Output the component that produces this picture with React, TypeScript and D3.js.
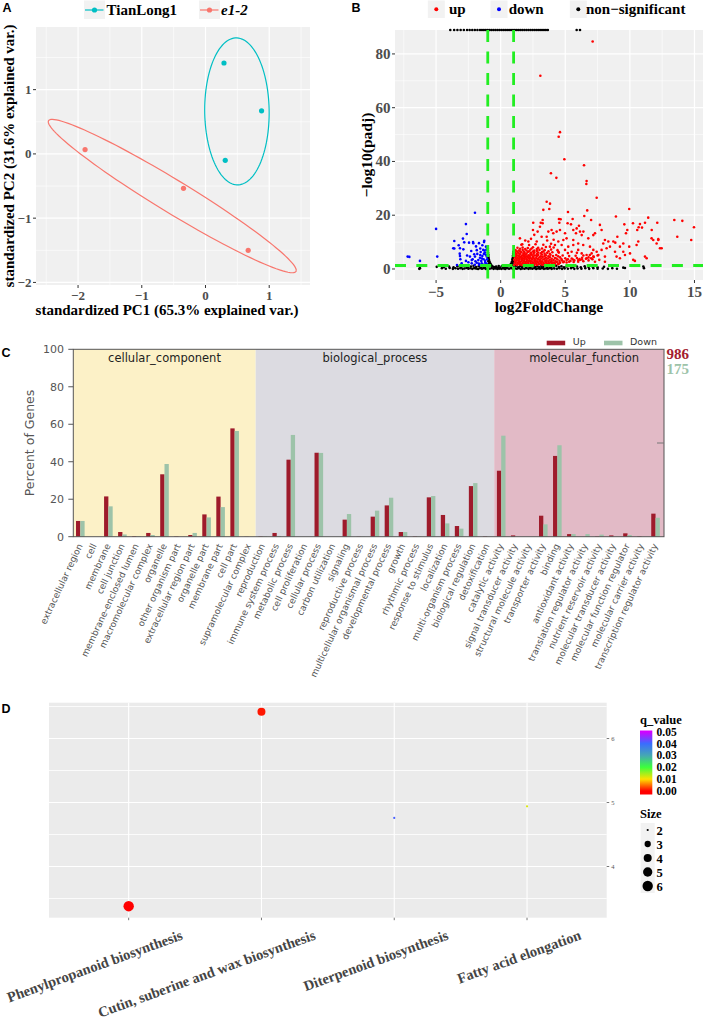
import React from 'react';
import * as d3 from 'd3';

// ================= Panel A : PCA =================
const pcaGroupNames = ['TianLong1', 'e1-2'];
const pcaGroupColors = ['#00BFC4', '#F8766D'];
const tianlongPC1 = [0.29, 0.88, 0.31];
const tianlongPC2 = [1.415, 0.67, -0.1];
const e12PC1 = [-1.89, -0.345, 0.67];
const e12PC2 = [0.067, -0.535, -1.5];
const pcaTicks = [-2, -1, 0, 1];
const pcaMinorX = [-2.5, -1.5, -0.5, 0.5, 1.5];
const pcaMinorY = [-1.5, -0.5, 0.5, 1.5];
const pcaEllipseProb = 0.68;

// ================= Panel B : volcano =================
const volcanoLegend = ['up', 'down', 'non\u2212significant'];
const volcanoColors = ['#FF0000', '#0000FF', '#000000'];
const volcanoXTicks = [-5, 0, 5, 10, 15];
const volcanoYTicks = [0, 20, 40, 60, 80];
const volcanoMinorX = [-7.5, -2.5, 2.5, 7.5, 12.5];
const volcanoMinorY = [10, 30, 50, 70];
const fcThresholds = [-1, 1];
const padjThreshold = 1.3;
const upScattered = [
  [7.12, 84.6], [3.07, 71.9], [4.59, 50.9], [4.49, 49.2], [4.93, 40.8], [6.45, 38.6], [3.89, 35.6], [4.31, 33.9],
  [6.65, 32.7], [6.63, 31.6], [7.43, 26.5], [3.56, 25.0], [3.82, 24.3], [3.3, 22.0], [3.76, 22.3], [5.21, 21.2],
  [6.7, 21.8], [9.95, 22.3], [8.92, 19.5], [11.42, 19.1], [13.44, 18.2], [14.06, 17.9], [14.96, 15.5], [14.75, 10.8],
  [13.67, 12.0], [11.17, 17.2], [12.12, 17.2], [10.24, 17.0], [10.78, 16.7], [9.57, 16.6], [10.57, 14.5], [11.69, 14.5],
  [10.94, 15.4], [4.64, 18.5], [12.46, 7.7], [12.07, 9.5], [11.81, 10.8], [12.2, 11.1], [11.68, 11.4], [10.68, 15.5],
  [9.8, 14.5], [9.7, 13.3], [9.03, 12.0], [8.72, 10.2], [8.87, 9.8], [9.23, 8.3], [9.49, 9.5], [9.95, 8.3],
  [10.01, 5.8], [10.26, 3.4], [10.39, 3.0], [10.65, 10.2], [10.52, 8.9], [11.17, 4.6], [11.3, 4.0], [7.68, 16.4],
  [7.81, 14.5], [7.3, 13.3], [7.17, 12.6], [8.07, 10.8], [7.94, 9.5], [8.33, 10.2], [8.46, 8.3], [8.2, 7.7],
  [8.85, 6.4], [8.97, 4.6], [9.49, 6.4], [9.62, 5.2], [9.23, 4.0], [7.81, 7.1], [7.43, 6.4], [7.04, 5.8],
  [6.65, 5.2], [7.17, 4.6], [7.56, 5.2], [8.07, 4.6], [7.63, 3.4], [8.07, 2.7], [7.3, 2.7], [6.65, 4.0],
  [6.14, 3.4], [4.51, 18.6], [5.57, 18.6], [5.18, 17.0], [6.06, 16.1], [5.44, 16.6], [6.14, 13.9], [5.83, 13.3],
  [6.27, 12.6], [6.78, 11.4], [6.47, 19.7], [5.62, 14.5], [4.98, 13.3], [4.59, 14.5], [4.33, 13.9], [3.94, 14.5],
  [4.07, 13.3], [5.1, 11.4], [5.62, 10.8], [4.85, 10.8], [4.46, 10.2], [6.0, 9.5], [6.39, 8.9], [5.62, 8.9],
  [5.23, 8.3], [4.72, 8.9], [4.2, 8.9], [3.81, 8.3], [6.91, 8.3], [7.17, 7.1], [6.0, 7.1], [6.27, 5.8],
  [5.49, 6.4], [4.98, 7.1], [4.46, 6.4], [3.25, 17.0], [3.25, 18.2], [3.04, 15.7], [1.49, 11.4], [1.67, 9.2],
  [2.14, 10.2], [2.79, 10.2], [3.17, 12.0], [2.6, 12.7], [2.86, 13.9], [2.52, 17.2], [3.1, 17.2], [2.5, 14.5],
  [3.69, 13.9], [4.54, 17.2], [3.56, 12.0], [1.9, 10.6], [2.35, 11.2], [3.6, 10.6], [4.1, 10.9], [6.4, 13.9],
  [5.88, 15.1], [7.0, 18.2], [12.33, 7.7], [12.2, 10.8],
];
const upDense = [
  [1.05, 1.6], [1.25, 1.5], [1.45, 1.7], [1.62, 1.5], [1.8, 1.8], [2.0, 1.6], [2.2, 1.5], [2.4, 1.7], [2.6, 1.6], [2.8, 1.5],
  [3.0, 1.8], [3.2, 1.6], [3.4, 1.5], [3.6, 1.7], [3.8, 1.6], [4.0, 1.9], [4.2, 1.7], [4.45, 1.8],
  [1.1, 2.5], [1.3, 2.4], [1.5, 2.6], [1.7, 2.3], [1.9, 2.6], [2.1, 2.4], [2.3, 2.6], [2.5, 2.3], [2.7, 2.5], [2.9, 2.4],
  [3.1, 2.6], [3.3, 2.4], [3.5, 2.5], [3.7, 2.3], [3.9, 2.6], [4.1, 2.4], [4.35, 2.6], [4.6, 2.3], [4.85, 2.5], [5.1, 2.4],
  [1.05, 3.4], [1.25, 3.3], [1.45, 3.5], [1.65, 3.3], [1.85, 3.5], [2.05, 3.4], [2.25, 3.2], [2.45, 3.5], [2.65, 3.3],
  [2.85, 3.5], [3.05, 3.3], [3.3, 3.5], [3.55, 3.2], [3.8, 3.4], [4.1, 3.3], [4.4, 3.5], [4.75, 3.2], [5.1, 3.3],
  [5.4, 3.0], [5.7, 3.2], [6.0, 3.3], [6.3, 3.5],
  [1.1, 4.3], [1.3, 4.2], [1.5, 4.4], [1.7, 4.1], [1.9, 4.3], [2.1, 4.4], [2.3, 4.2], [2.5, 4.4], [2.75, 4.1], [3.0, 4.3],
  [3.25, 4.5], [3.5, 4.2], [3.8, 4.4], [4.2, 4.1], [4.6, 4.3], [5.0, 4.0], [5.5, 3.9], [5.9, 4.1], [6.3, 4.2], [6.8, 4.3],
  [7.2, 4.5], [7.5, 5.0],
  [1.05, 5.2], [1.25, 5.1], [1.45, 5.3], [1.65, 5.0], [1.9, 5.3], [2.15, 5.1], [2.4, 5.3], [2.65, 5.0], [2.9, 5.2],
  [3.2, 5.4], [3.5, 5.1], [3.85, 5.3], [4.3, 5.2], [4.8, 5.0], [5.3, 4.8], [5.8, 4.9], [6.4, 5.0], [6.9, 5.2],
  [1.1, 6.2], [1.35, 6.0], [1.6, 6.2], [1.85, 6.0], [2.1, 6.3], [2.35, 6.0], [2.6, 6.2], [2.9, 6.1], [3.2, 6.3],
  [3.6, 6.0], [4.0, 6.2], [4.5, 6.1], [5.2, 5.9], [5.9, 6.0],
  [1.15, 7.0], [1.4, 6.9], [1.7, 7.1], [2.0, 6.9], [2.3, 7.2], [2.6, 6.9], [3.0, 7.1], [3.4, 7.0], [3.9, 7.2], [4.4, 7.0],
  [1.3, 7.9], [1.7, 8.0], [2.1, 7.8], [2.5, 8.1], [2.9, 7.9], [3.5, 8.2], [4.1, 8.0],
  [1.6, 9.0], [2.2, 8.9], [2.7, 9.2], [3.3, 9.0], [3.9, 9.4],
];
const upDenseFill = [
  [1.15, 2.0], [1.35, 2.1], [1.55, 1.9], [1.75, 2.0], [1.95, 2.1], [2.15, 1.9], [2.35, 2.0], [2.55, 2.1], [2.75, 1.9],
  [2.95, 2.0], [3.15, 2.1], [3.35, 1.9], [3.55, 2.0], [3.75, 2.1], [3.95, 2.2], [4.2, 2.1], [4.5, 2.0],
  [1.15, 2.9], [1.4, 3.0], [1.6, 2.9], [1.8, 3.0], [2.0, 2.9], [2.2, 3.0], [2.4, 2.9], [2.6, 3.0], [2.8, 2.9], [3.0, 3.0],
  [3.2, 2.9], [3.45, 3.0], [3.7, 2.9], [3.95, 3.0], [4.25, 2.9], [4.55, 3.0], [4.9, 2.8], [5.3, 2.7], [5.65, 2.6],
  [6.0, 2.7], [6.4, 2.9], [6.8, 3.2], [7.1, 3.6],
  [1.2, 3.8], [1.4, 3.9], [1.6, 3.8], [1.8, 3.9], [2.0, 3.8], [2.2, 3.9], [2.4, 3.8], [2.6, 3.9], [2.9, 3.8], [3.15, 3.9],
  [3.4, 3.8], [3.65, 3.9], [3.95, 3.8], [4.3, 3.9], [4.7, 3.7], [5.2, 3.6], [5.6, 3.5], [6.1, 3.7], [6.6, 3.8], [7.0, 4.0],
  [1.2, 4.7], [1.4, 4.8], [1.6, 4.6], [1.8, 4.8], [2.0, 4.7], [2.25, 4.8], [2.5, 4.7], [2.8, 4.8], [3.1, 4.7], [3.4, 4.8],
  [3.7, 4.7], [4.05, 4.8], [4.45, 4.7],
  [1.2, 5.6], [1.5, 5.7], [1.75, 5.6], [2.0, 5.7], [2.3, 5.6], [2.55, 5.7], [2.8, 5.6], [3.1, 5.8], [3.4, 5.7], [3.8, 5.6],
  [1.25, 6.5], [1.5, 6.6], [1.8, 6.5], [2.2, 6.6], [2.5, 6.5], [2.8, 6.7], [3.3, 6.5], [3.7, 6.6],
  [1.5, 7.5], [1.9, 7.4], [2.4, 7.6], [2.8, 7.4], [3.2, 7.6],
];
const downPoints = [
  [-1.99, 20.9], [-5.0, 14.9], [-2.69, 16.7], [-2.63, 13.0], [-2.92, 11.3], [-2.45, 9.8], [-3.25, 8.8], [-3.59, 7.6],
  [-2.89, 7.3], [-7.07, 4.5], [-6.25, 3.0], [-4.91, 4.6], [-3.38, 1.5], [-2.14, 10.0], [-1.91, 8.4], [-2.28, 6.7],
  [-3.17, 5.7], [-3.12, 3.6], [-1.68, 9.6], [-1.42, 8.8], [-1.29, 10.0], [-1.58, 7.6], [-1.81, 5.6], [-2.17, 3.6],
  [-2.69, 3.0], [-1.42, 4.8], [-1.22, 6.1], [-1.32, 3.6], [-1.73, 3.3], [-1.99, 4.6], [-1.58, 5.2], [-2.38, 4.6],
  [-1.86, 2.3], [-1.14, 8.3], [-1.08, 4.6], [-1.47, 2.1], [-2.24, 2.1], [-3.02, 2.1], [-3.59, 10.4], [-3.15, 7.7],
  [-2.82, 9.9], [-3.67, 7.7], [-3.15, 4.8], [-2.12, 9.6], [-1.27, 10.5], [-1.35, 7.1], [-2.24, 3.3], [-7.2, 4.6],
  [-1.1, 2.0], [-1.2, 3.0], [-1.15, 5.3], [-1.25, 6.9], [-1.5, 3.0], [-1.6, 4.2], [-1.7, 2.0], [-1.95, 2.9],
  [-2.05, 5.5], [-1.4, 1.7], [-1.05, 3.6], [-1.1, 7.2], [-1.3, 5.6], [-1.55, 6.3], [-1.85, 7.0], [-2.5, 2.5],
  [-2.0, 1.6], [-2.6, 5.0], [-1.05, 1.5], [-1.2, 2.3], [-1.45, 3.9], [-1.65, 1.5],
];
const nsPoints = [
  [-1.0, 7.6], [-0.99, 6.8], [-0.98, 6.1], [-0.97, 5.5], [-0.96, 4.9], [-0.95, 4.3], [-0.93, 3.8], [-0.9, 3.3],
  [-0.95, 2.9], [-0.86, 2.7], [-0.88, 2.2], [-0.8, 2.0], [-0.93, 1.7], [-0.75, 1.6], [-0.7, 1.2], [-0.85, 1.1],
  [-0.62, 0.9], [-0.52, 0.7], [-0.44, 0.5], [-0.98, 3.5], [-0.83, 1.5],
  [0.98, 6.4], [0.97, 5.7], [0.96, 5.1], [0.95, 4.5], [0.93, 3.9], [0.9, 3.4], [0.95, 2.9], [0.86, 2.6], [0.88, 2.1],
  [0.8, 1.9], [0.9, 1.6], [0.72, 1.5], [0.76, 1.2], [0.62, 1.0], [0.5, 0.9], [0.4, 0.7], [0.97, 2.4], [0.84, 1.3],
  [0.3, 0.5], [0.18, 0.8], [0.08, 1.0], [-0.05, 0.4], [-0.2, 0.3], [-0.32, 0.4],
  [-6.3, 0.05], [-6.25, 0.3], [-4.95, 0.8], [-4.55, 0.3], [-4.25, 0.1], [-3.95, 0.35], [-3.7, 0.05], [-3.5, 0.25],
  [-3.3, 0.1], [-3.12, 0.3], [-2.95, 0.05], [-2.8, 0.2], [-2.65, 0.35], [-2.5, 0.1], [-2.35, 0.25], [-2.2, 0.05],
  [-2.05, 0.3], [-1.9, 0.15], [-1.75, 0.0], [-1.6, 0.25], [-1.45, 0.1], [-1.3, 0.3], [-1.15, 0.05], [-1.0, 0.2],
  [-0.85, 0.1], [-0.7, 0.3], [-0.55, 0.05], [-0.4, 0.2], [-0.25, 0.0], [-0.1, 0.15], [0.05, 0.05], [0.2, 0.2],
  [0.35, 0.0], [0.5, 0.25], [0.65, 0.1], [0.8, 0.3], [0.95, 0.05], [1.1, 0.2], [1.25, 0.1], [1.4, 0.3], [1.55, 0.0],
  [1.7, 0.2], [1.85, 0.1], [2.0, 0.3], [2.15, 0.05], [2.3, 0.2], [2.45, 0.1], [2.6, 0.3], [2.75, 0.0], [2.9, 0.2],
  [3.05, 0.1], [3.2, 0.3], [3.35, 0.05], [3.5, 0.2], [3.65, 0.1], [3.8, 0.3], [3.95, 0.05], [4.15, 0.2], [4.35, 0.1],
  [4.55, 0.3], [4.75, 0.05], [4.95, 0.2], [5.2, 0.1], [5.45, 0.3], [5.7, 0.05], [5.95, 0.2], [6.25, 0.1], [6.55, 0.3],
  [6.85, 0.05], [7.17, 0.3], [7.5, 0.1], [7.9, 0.2], [8.3, 0.05], [8.64, 0.3], [9.0, 0.1], [9.49, 0.5], [9.62, 0.35],
  [11.04, 0.9], [11.09, 0.3],
  [-4.4, 0.7], [-4.0, 0.9], [-3.65, 0.6], [-3.35, 1.0], [-3.05, 0.7], [-2.8, 1.1], [-2.55, 0.6], [-2.3, 0.9],
  [-2.1, 1.2], [-1.9, 0.7], [-1.7, 1.0], [-1.5, 0.6], [-1.35, 1.1], [-1.2, 0.8], [-1.05, 1.2], [-0.35, 0.9],
  [-0.15, 1.1], [0.3, 1.2], [1.05, 0.8], [1.2, 1.2], [1.35, 0.6], [1.5, 1.0], [1.65, 0.7], [1.8, 1.2], [1.95, 0.8],
  [2.1, 1.1], [2.25, 0.6], [2.4, 0.9], [2.55, 1.2], [2.7, 0.7], [2.85, 1.0], [3.0, 0.6], [3.15, 1.1], [3.3, 0.8],
  [3.45, 1.2], [3.6, 0.7], [3.75, 1.0], [3.9, 0.6], [4.1, 0.9], [4.3, 1.2], [4.5, 0.7], [4.7, 1.0], [4.9, 0.6],
  [5.1, 0.9], [5.35, 1.1], [5.6, 0.7], [5.9, 0.9], [6.2, 0.6], [6.5, 1.0], [6.8, 0.7], [7.1, 0.9], [7.5, 0.6], [8.0, 0.8],
];
const nsCappedLfc = [
  -3.9, -3.6, -3.35, -3.1, -2.85, -2.6, -2.4, -2.2, -2.0, -1.8, -1.6, -1.45, -1.3, -1.15, -1.0, -0.85, -0.7, -0.55,
  -0.4, -0.25, -0.1, 0.05, 0.2, 0.35, 0.5, 0.65, 0.8, 0.95, 1.1, 1.25, 1.4, 1.55, 1.7, 1.85, 2.0, 2.15, 2.3, 2.45,
  2.6, 2.75, 2.9, 3.05, 3.2, 3.35, 3.5, 3.65, 5.88, 6.14,
];
const nsCappedValue = 88.9;

// ================= Panel C : GO classification =================
const goSections = ['cellular_component', 'biological_process', 'molecular_function'];
const goSectionSizes = [13, 17, 12];
const goSectionColors = ['#fcf1c7', '#dcdbe1', '#e2bac6'];
const goTerms = [
  'extracellular region', 'cell', 'membrane', 'cell junction', 'membrane-enclosed lumen', 'macromolecular complex',
  'organelle', 'other organism part', 'extracellular region part', 'organelle part', 'membrane part', 'cell part',
  'supramolecular complex',
  'reproduction', 'immune system process', 'metabolic process', 'cell proliferation', 'cellular process',
  'carbon utilization', 'signaling', 'reproductive process', 'multicellular organismal process',
  'developmental process', 'growth', 'rhythmic process', 'response to stimulus', 'localization',
  'multi-organism process', 'biological regulation', 'detoxification',
  'catalytic activity', 'signal transducer activity', 'structural molecule activity', 'transporter activity',
  'binding', 'antioxidant activity', 'translation regulator activity', 'nutrient reservoir activity',
  'molecular transducer activity', 'molecular function regulator', 'molecular carrier activity',
  'transcription regulator activity',
];
const goUp = [
  8.4, 0, 21.5, 2.5, 0.3, 2.0, 33.3, 0.2, 0.9, 11.9, 21.4, 57.8, 0.1,
  0.2, 2.0, 41.1, 0, 44.8, 0, 9.1, 0.1, 10.7, 16.7, 2.5, 0.2, 21.0, 11.6, 5.7, 27.0, 0.2,
  35.2, 0.7, 0, 11.2, 43.1, 1.4, 0, 0.2, 0.7, 1.8, 0.2, 12.3,
];
const goDown = [
  8.4, 0, 16.2, 1.2, 0.3, 0.9, 38.8, 0, 2.0, 10.3, 15.8, 56.4, 0,
  0.2, 0.4, 54.3, 0, 44.7, 0, 12.1, 0.1, 13.9, 20.8, 2.5, 0.2, 21.7, 7.1, 4.3, 28.6, 0,
  53.9, 0, 0, 6.6, 48.8, 1.4, 1.4, 1.1, 0, 0.9, 0, 10.1,
];
const goSeries = ['Up', 'Down'];
const goSeriesColors = ['#9e1b2b', '#9dc3a9'];
const goTotals = [986, 175];
const goYTicks = [0, 20, 40, 60, 80, 100];
const goRightTick = 50;

// ================= Panel D : KEGG enrichment =================
const pathways = [
  'Phenylpropanoid biosynthesis',
  'Cutin, suberine and wax biosynthesis',
  'Diterpenoid biosynthesis',
  'Fatty acid elongation',
];
const pathwayY = [3.38, 6.42, 4.76, 4.94];
const pathwayQ = [0.0, 0.001, 0.041, 0.012];
const pathwaySize = [6, 4, 2, 2];
const keggYTicks = [4, 5, 6];
const keggMinorY = [3.5, 4.5, 5.5, 6.5];
const qTicks = [0.05, 0.04, 0.03, 0.02, 0.01, 0.0];
const qStops = [0, 0.01, 0.02, 0.03, 0.04, 0.05];
const qStopColors = ['#ff0000', '#ffe000', '#3cff3c', '#45a7b4', '#3a6cff', '#d400ff'];
const sizeLegendValues = [2, 3, 4, 5, 6];

// ---------------- helpers ----------------
const SERIF = '"Liberation Serif", "Times New Roman", serif';
const SANS = '"DejaVu Sans", sans-serif';
const ARIAL = '"Liberation Sans", Arial, sans-serif';
const fmtMinus = (v: number) => (v < 0 ? '\u2212' + Math.abs(v) : String(v));

function dataEllipse(xs: number[], ys: number[], prob: number, n = 120) {
  const k = xs.length;
  const mx = d3.mean(xs) as number;
  const my = d3.mean(ys) as number;
  let sxx = 0, syy = 0, sxy = 0;
  for (let i = 0; i < k; i++) {
    sxx += (xs[i] - mx) ** 2;
    syy += (ys[i] - my) ** 2;
    sxy += (xs[i] - mx) * (ys[i] - my);
  }
  sxx /= k - 1; syy /= k - 1; sxy /= k - 1;
  const u11 = Math.sqrt(sxx);
  const u12 = sxy / u11;
  const u22 = Math.sqrt(Math.max(syy - u12 * u12, 0));
  const ed = Math.sqrt(-2 * Math.log(1 - prob));
  return d3.range(n + 1).map((i) => {
    const t = (2 * Math.PI * i) / n;
    const c = Math.cos(t), s = Math.sin(t);
    return [mx + ed * c * u11, my + ed * (c * u12 + s * u22)] as [number, number];
  });
}

export default function App() {
  // ---------- Panel A ----------
  const aL = 36, aR = 310, aT = 27, aB = 285;
  const xA = d3.scaleLinear().domain([-2.66, 1.64]).range([aL, aR]);
  const yA = d3.scaleLinear().domain([-2.04, 1.975]).range([aB, aT]);
  const groupsA = [
    { xs: tianlongPC1, ys: tianlongPC2 },
    { xs: e12PC1, ys: e12PC2 },
  ];
  const lineA = d3.line<[number, number]>().x((d) => xA(d[0])).y((d) => yA(d[1]));

  // ---------- Panel B ----------
  const bL = 395, bR = 703, bT = 30, bB = 280;
  const xB = d3.scaleLinear().domain([-8.18, 15.66]).range([bL, bR]);
  const yB = d3.scaleLinear().domain([-4.1, 88.9]).range([bB, bT]);
  const upAll = upDense.concat(upDenseFill, upScattered);

  // ---------- Panel C ----------
  const cL = 73.3, cT = 349.3, cB = 536.7, cR = 664;
  const xC = d3.scaleBand().domain(goTerms).range([cL, cL + 14.03 * goTerms.length]).paddingInner(0).paddingOuter(0);
  const yC = d3.scaleLinear().domain([0, 100]).range([cB, cT]);
  const bw = xC.bandwidth();
  const barW = 4.3;
  const sectionStarts = goSectionSizes.map((_, i) => d3.sum(goSectionSizes.slice(0, i)));
  const sectionBounds = goSections.map((_, i) => {
    const x0 = xC(goTerms[sectionStarts[i]]) as number;
    const x1 = i === goSections.length - 1 ? cR : (xC(goTerms[sectionStarts[i + 1]]) as number);
    return [x0, x1];
  });

  // ---------- Panel D ----------
  const dL = 49, dR = 606.7, dT = 702.7, dB = 917.7;
  const xD = d3.scalePoint().domain(pathways).range([dL, dR]).padding(0.6);
  const yD = d3.scaleLinear().domain([3.2, 6.56]).range([dB, dT]);
  const qColor = d3.scaleLinear<string>().domain(qStops).range(qStopColors).interpolate(d3.interpolateRgb).clamp(true);
  const rScale = d3.scaleSqrt().domain([0, 4]).range([1.1, 5.2]);
  const sizeR = (v: number) => rScale(v - 2);
  const qY = d3.scaleLinear().domain([0, 0.05]).range([791, 731.7]);
  const barTop = 730.5, barBot = 794.5;

  const ptR = 1.3;

  return (
    <svg width={708} height={1019} style={{ position: 'absolute', left: 0, top: 0, background: '#fff' }}>
      <defs>
        <linearGradient id="qgrad" x1="0" y1="1" x2="0" y2="0">
          {d3.range(0, 0.0501, 0.0025).map((q, i) => (
            <stop key={i} offset={(barBot - qY(q)) / (barBot - barTop)} stopColor={qColor(q)} />
          ))}
        </linearGradient>
      </defs>

      {/* ======== Panel A ======== */}
      <text x={2.5} y={11.7} fontFamily={ARIAL} fontWeight={700} fontSize={12.5}>A</text>
      {pcaGroupNames.map((name, i) => {
        const kx = [94.5, 209.5][i];
        const tx = [106.5, 221][i];
        return (
          <g key={name}>
            <rect x={kx - 10.5} y={0.5} width={21} height={18.5} fill="#f2f2f2" />
            <line x1={kx - 9.5} x2={kx + 9} y1={10} y2={10} stroke={pcaGroupColors[i]} strokeWidth={1.2} />
            <circle cx={kx} cy={10} r={2.6} fill={pcaGroupColors[i]} />
            <text x={tx} y={14.5} fontFamily={SERIF} fontWeight={700} fontSize={15} fontStyle={i === 1 ? 'italic' : 'normal'}>{name}</text>
          </g>
        );
      })}
      <rect x={aL} y={aT} width={aR - aL} height={aB - aT} fill="#f0f0f0" />
      {pcaMinorX.map((v) => <line key={'amx' + v} x1={xA(v)} x2={xA(v)} y1={aT} y2={aB} stroke="#fff" strokeWidth={0.6} />)}
      {pcaMinorY.map((v) => <line key={'amy' + v} x1={aL} x2={aR} y1={yA(v)} y2={yA(v)} stroke="#fff" strokeWidth={0.6} />)}
      {pcaTicks.map((v) => <line key={'ax' + v} x1={xA(v)} x2={xA(v)} y1={aT} y2={aB} stroke="#fff" strokeWidth={1.2} />)}
      {pcaTicks.map((v) => <line key={'ay' + v} x1={aL} x2={aR} y1={yA(v)} y2={yA(v)} stroke="#fff" strokeWidth={1.2} />)}
      {groupsA.map((g, i) => (
        <path key={'ell' + i} d={lineA(dataEllipse(g.xs, g.ys, pcaEllipseProb)) as string} fill="none" stroke={pcaGroupColors[i]} strokeWidth={1.2} />
      ))}
      {groupsA.map((g, i) => g.xs.map((x, j) => (
        <circle key={'ap' + i + j} cx={xA(x)} cy={yA(g.ys[j])} r={2.6} fill={pcaGroupColors[i]} />
      )))}
      {pcaTicks.map((v) => (
        <g key={'axt' + v}>
          <line x1={xA(v)} x2={xA(v)} y1={aB} y2={aB + 3} stroke="#333" strokeWidth={1} />
          <text x={xA(v)} y={300} textAnchor="middle" fontFamily={SERIF} fontWeight={700} fontSize={13} fill="#4d4d4d">{fmtMinus(v)}</text>
          <line x1={aL - 3} x2={aL} y1={yA(v)} y2={yA(v)} stroke="#333" strokeWidth={1} />
          <text x={aL - 4.5} y={yA(v) + 4.5} textAnchor="end" fontFamily={SERIF} fontWeight={700} fontSize={13} fill="#4d4d4d">{fmtMinus(v)}</text>
        </g>
      ))}
      <text x={(aL + aR) / 2 - 6} y={314.5} textAnchor="middle" fontFamily={SERIF} fontWeight={700} fontSize={15}>standardized PC1 (65.3% explained var.)</text>
      <text transform={`translate(14, ${(aT + aB) / 2}) rotate(-90)`} textAnchor="middle" fontFamily={SERIF} fontWeight={700} fontSize={15}>standardized PC2 (31.6% explained var.)</text>

      {/* ======== Panel B ======== */}
      <text x={351.5} y={11.7} fontFamily={ARIAL} fontWeight={700} fontSize={12.5}>B</text>
      {volcanoLegend.map((name, i) => {
        const kx = [436.3, 499, 578.3][i];
        const tx = [449, 508.7, 586][i];
        return (
          <g key={name}>
            <rect x={kx - 8.5} y={0.5} width={17} height={17.5} fill="#f2f2f2" />
            <circle cx={kx} cy={9.3} r={2} fill={volcanoColors[i]} />
            <text x={tx} y={14} fontFamily={SERIF} fontWeight={700} fontSize={15}>{name}</text>
          </g>
        );
      })}
      <rect x={bL} y={bT} width={bR - bL} height={bB - bT} fill="#f0f0f0" />
      {volcanoMinorX.map((v) => <line key={'bmx' + v} x1={xB(v)} x2={xB(v)} y1={bT} y2={bB} stroke="#fff" strokeWidth={0.6} />)}
      {volcanoMinorY.map((v) => <line key={'bmy' + v} x1={bL} x2={bR} y1={yB(v)} y2={yB(v)} stroke="#fff" strokeWidth={0.6} />)}
      {volcanoXTicks.map((v) => <line key={'bx' + v} x1={xB(v)} x2={xB(v)} y1={bT} y2={bB} stroke="#fff" strokeWidth={1.2} />)}
      {volcanoYTicks.map((v) => <line key={'by' + v} x1={bL} x2={bR} y1={yB(v)} y2={yB(v)} stroke="#fff" strokeWidth={1.2} />)}
      {nsPoints.map((p, i) => <circle key={'ns' + i} cx={xB(p[0])} cy={yB(p[1])} r={ptR} fill={volcanoColors[2]} />)}
      {nsCappedLfc.map((x, i) => <circle key={'nc' + i} cx={xB(x)} cy={yB(nsCappedValue)} r={ptR} fill={volcanoColors[2]} />)}
      {downPoints.map((p, i) => <circle key={'dn' + i} cx={xB(p[0])} cy={yB(p[1])} r={ptR} fill={volcanoColors[1]} />)}
      {upAll.map((p, i) => <circle key={'up' + i} cx={xB(p[0])} cy={yB(p[1])} r={ptR} fill={volcanoColors[0]} />)}
      {fcThresholds.map((v) => (
        <line key={'fc' + v} x1={xB(v)} x2={xB(v)} y1={bT} y2={bB} stroke="#22ee22" strokeWidth={2.8} strokeDasharray="12 9.5" />
      ))}
      <line x1={bL} x2={bR} y1={yB(padjThreshold)} y2={yB(padjThreshold)} stroke="#22ee22" strokeWidth={2.8} strokeDasharray="11 10.3" />
      {volcanoXTicks.map((v) => (
        <g key={'bxt' + v}>
          <line x1={xB(v)} x2={xB(v)} y1={bB} y2={bB + 3} stroke="#333" />
          <text x={xB(v)} y={296.5} textAnchor="middle" fontFamily={SERIF} fontWeight={700} fontSize={15} fill="#4d4d4d">{fmtMinus(v)}</text>
        </g>
      ))}
      {volcanoYTicks.map((v) => (
        <g key={'byt' + v}>
          <line x1={bL - 3} x2={bL} y1={yB(v)} y2={yB(v)} stroke="#333" />
          <text x={bL - 4.5} y={yB(v) + 5} textAnchor="end" fontFamily={SERIF} fontWeight={700} fontSize={15} fill="#4d4d4d">{v}</text>
        </g>
      ))}
      <text x={(bL + bR) / 2} y={311.5} textAnchor="middle" fontFamily={SERIF} fontWeight={700} fontSize={15.5}>log2FoldChange</text>
      <text transform={`translate(372, ${(bT + bB) / 2}) rotate(-90)`} textAnchor="middle" fontFamily={SERIF} fontWeight={700} fontSize={15.5}>{'\u2212log10(padj)'}</text>

      {/* ======== Panel C ======== */}
      <text x={1.5} y={356.7} fontFamily={ARIAL} fontWeight={700} fontSize={12.5}>C</text>
      {goSections.map((s, i) => (
        <rect key={'sec' + s} x={sectionBounds[i][0]} y={cT} width={sectionBounds[i][1] - sectionBounds[i][0]} height={cB - cT} fill={goSectionColors[i]} />
      ))}
      {goSections.map((s, i) => (
        <text key={'secl' + s} x={(sectionBounds[i][0] + sectionBounds[i][1]) / 2 + (i === 2 ? 5 : 0)} y={361.8} textAnchor="middle" fontFamily={SANS} fontSize={11.5} fill="#222">{s}</text>
      ))}
      {goTerms.map((t, i) => {
        const c = (xC(t) as number) + bw / 2;
        return (
          <g key={'bar' + i}>
            <rect x={c - barW} y={yC(goUp[i])} width={barW} height={cB - yC(goUp[i])} fill={goSeriesColors[0]} />
            <rect x={c} y={yC(goDown[i])} width={barW} height={cB - yC(goDown[i])} fill={goSeriesColors[1]} />
            <text transform={`translate(${c + 2.5}, 545.5) rotate(-65)`} textAnchor="end" fontFamily={SANS} fontSize={9} fill="#555">{t}</text>
          </g>
        );
      })}
      <rect x={cL} y={cT} width={cR - cL} height={cB - cT} fill="none" stroke="#555" strokeWidth={1} />
      <line x1={cR - 7} x2={cR} y1={yC(goRightTick)} y2={yC(goRightTick)} stroke="#777" strokeWidth={1} />
      {goYTicks.map((v) => (
        <g key={'cy' + v}>
          <line x1={cL - 5} x2={cL} y1={yC(v)} y2={yC(v)} stroke="#555" />
          <text x={64} y={yC(v) + 4} textAnchor="end" fontFamily={SANS} fontSize={11} fill="#555">{v}</text>
        </g>
      ))}
      <text transform={`translate(34, ${(cT + cB) / 2}) rotate(-90)`} textAnchor="middle" fontFamily={SANS} fontSize={12.5} fill="#555">Percent of Genes</text>
      {goSeries.map((s, i) => (
        <g key={'leg' + s}>
          <rect x={[546.7, 604][i]} y={340.7} width={18.5} height={4.6} fill={goSeriesColors[i]} />
          <text x={[572.7, 630][i]} y={345.3} fontFamily={SANS} fontSize={9.5} fill="#333">{s}</text>
        </g>
      ))}
      {goTotals.map((v, i) => (
        <text key={'tot' + i} x={666.5} y={[359, 374][i]} fontFamily={SERIF} fontWeight={700} fontSize={15} fill={i === 0 ? '#a3202f' : '#9dc3a9'}>{v}</text>
      ))}

      {/* ======== Panel D ======== */}
      <text x={1.5} y={712.7} fontFamily={ARIAL} fontWeight={700} fontSize={12.5}>D</text>
      <rect x={dL} y={dT} width={dR - dL} height={dB - dT} fill="#ebebeb" />
      {keggMinorY.map((v) => <line key={'dmy' + v} x1={dL} x2={dR} y1={yD(v)} y2={yD(v)} stroke="#fff" strokeWidth={0.8} />)}
      {keggYTicks.map((v) => <line key={'dy' + v} x1={dL} x2={dR} y1={yD(v)} y2={yD(v)} stroke="#fff" strokeWidth={1.1} />)}
      {pathways.map((p) => <line key={'dx' + p} x1={xD(p) as number} x2={xD(p) as number} y1={dT} y2={dB} stroke="#fff" strokeWidth={1.1} />)}
      {pathways.map((p, i) => (
        <circle key={'dp' + i} cx={xD(p) as number} cy={yD(pathwayY[i])} r={sizeR(pathwaySize[i])} fill={qColor(pathwayQ[i])} />
      ))}
      {pathways.map((p) => (
        <g key={'dxt' + p}>
          <line x1={xD(p) as number} x2={xD(p) as number} y1={dB} y2={dB + 2.5} stroke="#555" strokeWidth={0.8} />
          <text transform={`translate(${(xD(p) as number) + 55}, 939) rotate(-20)`} textAnchor="end" fontFamily={SERIF} fontWeight={700} fontSize={14.5} fill="#444">{p}</text>
        </g>
      ))}
      {keggYTicks.map((v) => (
        <g key={'dyt' + v}>
          <line x1={dR} x2={dR + 2.5} y1={yD(v)} y2={yD(v)} stroke="#555" strokeWidth={0.8} />
          <text x={dR + 4.5} y={yD(v) + 2.3} fontFamily={SERIF} fontSize={6.5} fill="#555">{v}</text>
        </g>
      ))}
      <text x={640} y={724} fontFamily={SERIF} fontWeight={700} fontSize={12.5}>q_value</text>
      <rect x={640} y={barTop} width={12.3} height={barBot - barTop} fill="url(#qgrad)" />
      {qTicks.map((q) => (
        <text key={'qt' + q} x={656.5} y={qY(q) + 4} fontFamily={SERIF} fontWeight={700} fontSize={11.5}>{q.toFixed(2)}</text>
      ))}
      <text x={640} y={818} fontFamily={SERIF} fontWeight={700} fontSize={12.5}>Size</text>
      {sizeLegendValues.map((v, i) => {
        const cy = 830 + i * 14;
        return (
          <g key={'sz' + v}>
            <rect x={640.7} y={cy - 7} width={14} height={14} fill="#f2f2f2" />
            <circle cx={647.7} cy={cy} r={sizeR(v)} fill="#000" />
            <text x={656.5} y={cy + 4.5} fontFamily={SERIF} fontWeight={700} fontSize={12.5}>{v}</text>
          </g>
        );
      })}
    </svg>
  );
}
